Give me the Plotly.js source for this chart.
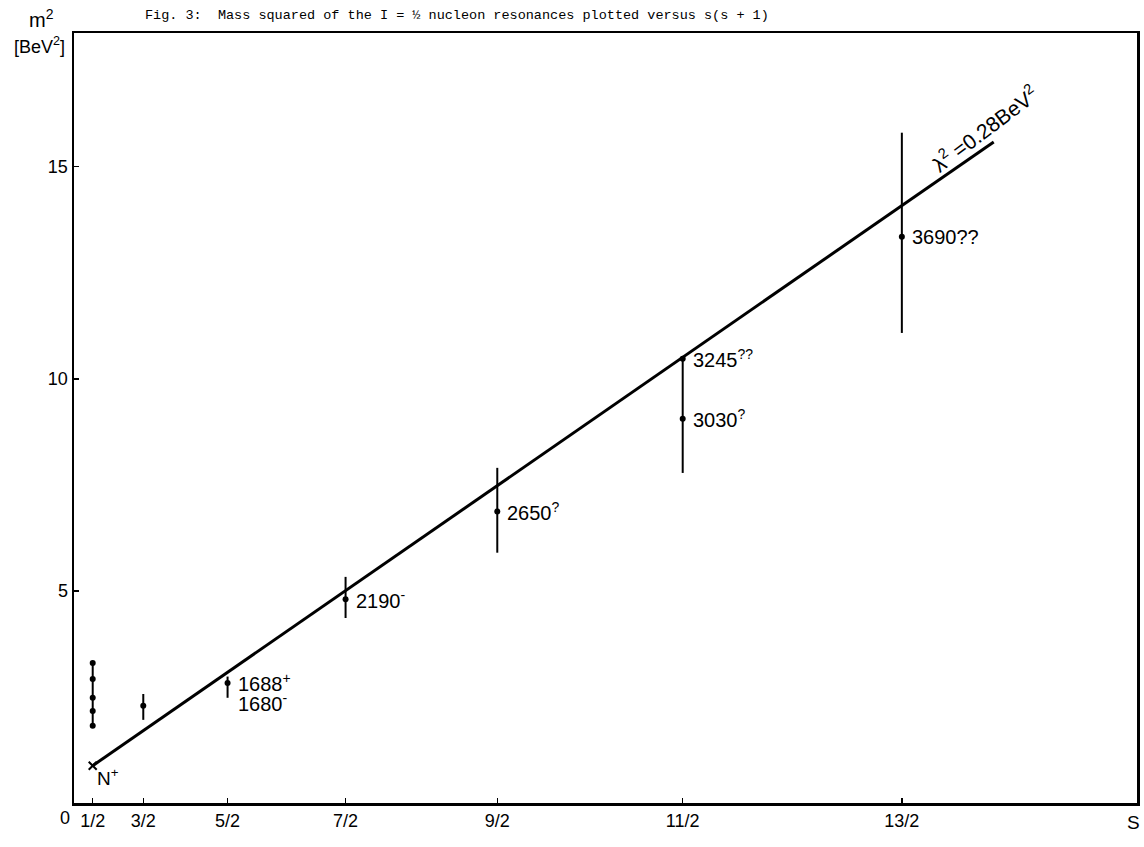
<!DOCTYPE html>
<html>
<head>
<meta charset="utf-8">
<script src="https://cdn.plot.ly/plotly-3.0.1.min.js"></script>
<style>
html,body{margin:0;padding:0;background:#fff;}
#chart{width:1144px;height:847px;}
</style>
</head>
<body>
<div id="chart"></div>
<script>
// ---- data (m^2 in BeV^2 versus spin s; plotted against s(s+1)) ----
const spinTickLabels = ['1/2', '3/2', '5/2', '7/2', '9/2', '11/2', '13/2'];
const spinTickValues = [0.5, 1.5, 2.5, 3.5, 4.5, 5.5, 6.5];
const yTickValues = [5, 10, 15];

// vertical uncertainty bars for each spin
const barSpin = [0.5, 1.5, 2.5, 3.5, 4.5, 5.5, 6.5];
const barLow  = [1.82, 1.96, 2.48, 4.36, 5.90, 7.78, 11.08];
const barHigh = [3.30, 2.57, 2.98, 5.33, 7.90, 10.47, 15.80];

// resonance points
const pointSpin = [0.5, 0.5, 0.5, 0.5, 0.5, 1.5, 2.5, 3.5, 4.5, 5.5, 5.5, 6.5];
const pointM2   = [3.30, 2.92, 2.48, 2.17, 1.82, 2.29, 2.83, 4.80, 6.87, 10.47, 9.06, 13.35];

// nucleon N+
const nucleonSpin = [0.5];
const nucleonM2 = [0.88];

// straight trajectory  (x given as s(s+1))
const fitX = [0.75, 54.2];
const fitY = [0.88, 15.58];

// resonance labels
const labelText = ['1688<sup>+</sup>', '1680<sup>-</sup>', '2190<sup>-</sup>', '2650<sup>?</sup>', '3245<sup>??</sup>', '3030<sup>?</sup>', '3690??'];
const labelSpin = [2.5, 2.5, 3.5, 4.5, 5.5, 5.5, 6.5];
const labelM2   = [2.83, 2.36, 4.80, 6.87, 10.47, 9.06, 13.35];

const ss1 = s => s * (s + 1);

// ---- traces ----
const barX = [], barY = [];
barSpin.forEach((s, i) => {
  barX.push(ss1(s), ss1(s), null);
  barY.push(barLow[i], barHigh[i], null);
});

const traces = [
  {
    x: fitX, y: fitY, mode: 'lines', type: 'scatter',
    line: {color: '#000', width: 3}, hoverinfo: 'skip'
  },
  {
    x: barX, y: barY, mode: 'lines', type: 'scatter',
    line: {color: '#000', width: 2}, hoverinfo: 'skip'
  },
  {
    x: pointSpin.map(ss1), y: pointM2, mode: 'markers', type: 'scatter',
    marker: {color: '#000', size: 6, symbol: 'circle'}
  },
  {
    x: nucleonSpin.map(ss1), y: nucleonM2, mode: 'markers', type: 'scatter',
    marker: {color: '#000', size: 8, symbol: 'x-thin', line: {color: '#000', width: 2}}
  }
];

const FONT = 'Liberation Sans, Arial, sans-serif';
const labelFont = {family: FONT, size: 20, color: '#000'};
const annotations = labelText.map((t, i) => ({
  x: ss1(labelSpin[i]), y: labelM2[i], xref: 'x', yref: 'y',
  text: t, showarrow: false, xanchor: 'left', yanchor: 'middle',
  xshift: 8, font: labelFont
}));

const W = 1144, H = 847, mL = 74, mR = 7, mT = 33, mB = 44;
const pw = W - mL - mR, ph = H - mT - mB;
const px = x => (x - mL) / pw;
const py = y => 1 - (y - mT) / ph;

annotations.push(
  {x: 0.75, y: 0.88, xref: 'x', yref: 'y', text: 'N<sup>+</sup>', showarrow: false,
   xanchor: 'left', yanchor: 'top', xshift: 2, yshift: 3, font: {family: FONT, size: 19, color: '#000'}},
  {x: 53.7, y: 15.9, xref: 'x', yref: 'y', text: 'λ<sup>2</sup> =0.28BeV<sup>2</sup>', showarrow: false,
   xanchor: 'center', yanchor: 'middle', textangle: -37,
   font: {family: FONT, size: 21, color: '#000'}},
  {x: px(65), y: py(818), xref: 'paper', yref: 'paper', text: '0', showarrow: false,
   xanchor: 'center', yanchor: 'middle', font: {family: FONT, size: 18, color: '#000'}},
  {x: px(1133), y: py(822), xref: 'paper', yref: 'paper', text: 'S', showarrow: false,
   xanchor: 'center', yanchor: 'middle', font: {family: FONT, size: 19, color: '#000'}},
  {x: px(41), y: py(18), xref: 'paper', yref: 'paper', text: 'm<sup>2</sup>', showarrow: false,
   xanchor: 'center', yanchor: 'middle', font: {family: FONT, size: 20, color: '#000'}},
  {x: px(39), y: py(46), xref: 'paper', yref: 'paper', text: '[BeV<sup>2</sup>]', showarrow: false,
   xanchor: 'center', yanchor: 'middle', font: {family: FONT, size: 18, color: '#000'}},
  {x: px(143), y: py(16), xref: 'paper', yref: 'paper',
   text: 'Fig. 3:  Mass squared of the I = ½ nucleon resonances plotted versus s(s + 1)',
   showarrow: false, xanchor: 'left', yanchor: 'middle',
   font: {family: 'Liberation Mono, DejaVu Sans Mono, monospace', size: 13.5, color: '#000'}}
);

const layout = {
  width: W, height: H,
  margin: {l: mL, r: mR, t: mT, b: mB},
  paper_bgcolor: '#fff', plot_bgcolor: '#fff',
  showlegend: false,
  xaxis: {
    range: [-0.36, 62.7],
    tickvals: spinTickValues.map(ss1), ticktext: spinTickLabels,
    ticks: 'inside', ticklen: 5, tickwidth: 1.5, tickcolor: '#000',
    showgrid: false, zeroline: false,
    showline: true, linecolor: '#000', linewidth: 2.5, mirror: true,
    tickfont: {family: FONT, size: 18, color: '#000'}
  },
  yaxis: {
    range: [0, 18.15],
    tickvals: yTickValues, ticktext: yTickValues.map(String),
    ticks: 'inside', ticklen: 5, tickwidth: 1.5, tickcolor: '#000',
    showgrid: false, zeroline: false,
    showline: true, linecolor: '#000', linewidth: 2.5, mirror: true,
    tickfont: {family: FONT, size: 18, color: '#000'}
  },
  annotations: annotations
};

Plotly.newPlot('chart', traces, layout, {displayModeBar: false, staticPlot: true});
</script>
</body>
</html>
